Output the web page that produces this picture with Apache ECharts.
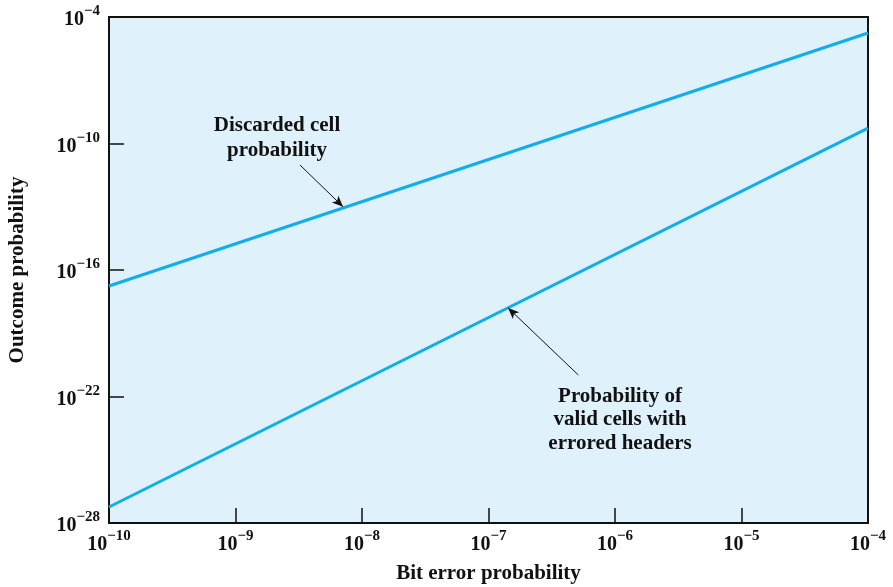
<!DOCTYPE html>
<html>
<head>
<meta charset="utf-8">
<script src="https://cdn.jsdelivr.net/npm/echarts@6/dist/echarts.min.js"></script>
<style>
  html, body { margin: 0; padding: 0; background: #fff; }
  #chart { width: 893px; height: 587px; }
</style>
</head>
<body>
<div id="chart"></div>
<script>
const FONT = '"Liberation Serif", "DejaVu Serif", serif'
const LINE = '#12aeea'

// values, as powers of ten (log10)
const bitErrorExp = [-10, -4]
const discardedExp = [-16.76, -4.76]
const erroredExp = [-27.24, -9.27]
const xTicks = [-10, -9, -8, -7, -6, -5, -4]
const yTicks = [-28, -22, -16, -10, -4]
// arrow ends [from, to], log10 coords
const arrowDiscarded = [[-8.49, -11.02], [-8.15, -13.0]]
const arrowErrored = [[-6.29, -20.98], [-6.845, -17.8]]

const chart = echarts.init(document.getElementById('chart'))

function sup(e) {
  e = Math.round(e)
  return '{b|10}{s|' + (e < 0 ? '\u2212' + (-e) : e) + '}'
}
const rich = {
  b: { fontFamily: FONT, fontWeight: 'bold', fontSize: 20, color: '#111', lineHeight: 26, verticalAlign: 'bottom' },
  s: { fontFamily: FONT, fontWeight: 'bold', fontSize: 15, color: '#111', lineHeight: 16, verticalAlign: 'top' }
}
const arrowLine = pts => ({
  silent: true, symbol: ['none', 'arrow'], symbolSize: [7, 11],
  lineStyle: { color: '#111', width: 1, type: 'solid' }, label: { show: false },
  data: [[{ coord: pts[0] }, { coord: pts[1] }]]
})
const axisBase = {
  type: 'value', nameLocation: 'middle',
  nameTextStyle: { fontFamily: FONT, fontWeight: 'bold', fontSize: 21, color: '#111' },
  axisLine: { show: true, lineStyle: { color: '#111', width: 2 } },
  splitLine: { show: false }
}

chart.setOption({
  animation: false,
  grid: { left: 109, right: 25, top: 17, bottom: 64, show: true, outerBoundsMode: 'none',
    backgroundColor: '#dff1fb', borderColor: '#111', borderWidth: 2 },
  xAxis: {
    ...axisBase, min: -10, max: -4,
    name: 'Bit error probability', nameGap: 40,
    axisTick: { inside: true, length: 15, customValues: xTicks, lineStyle: { color: '#111', width: 1.5 } },
    axisLabel: { formatter: sup, rich, margin: 6, customValues: xTicks }
  },
  yAxis: {
    ...axisBase, min: -28, max: -4,
    name: 'Outcome probability', nameGap: 81,
    axisTick: { inside: true, length: 15, customValues: yTicks, lineStyle: { color: '#111', width: 1.5 } },
    axisLabel: { formatter: sup, rich, margin: 9, customValues: yTicks }
  },
  series: [
    { name: 'Discarded cell probability', type: 'line', symbol: 'none',
      data: bitErrorExp.map((x, i) => [x, discardedExp[i]]),
      lineStyle: { color: LINE, width: 3 }, markLine: arrowLine(arrowDiscarded) },
    { name: 'Probability of valid cells with errored headers', type: 'line', symbol: 'none',
      data: bitErrorExp.map((x, i) => [x, erroredExp[i]]),
      lineStyle: { color: LINE, width: 3 }, markLine: arrowLine(arrowErrored) }
  ],
  graphic: [
    { type: 'text', x: 277, y: 138, style: { text: 'Discarded cell\nprobability', align: 'center', verticalAlign: 'middle',
      font: 'bold 21px ' + FONT, lineHeight: 25, fill: '#111' } },
    { type: 'text', x: 620, y: 420, style: { text: 'Probability of\nvalid cells with\nerrored headers', align: 'center', verticalAlign: 'middle',
      font: 'bold 21px ' + FONT, lineHeight: 23.5, fill: '#111' } }
  ]
})
</script>
</body>
</html>
